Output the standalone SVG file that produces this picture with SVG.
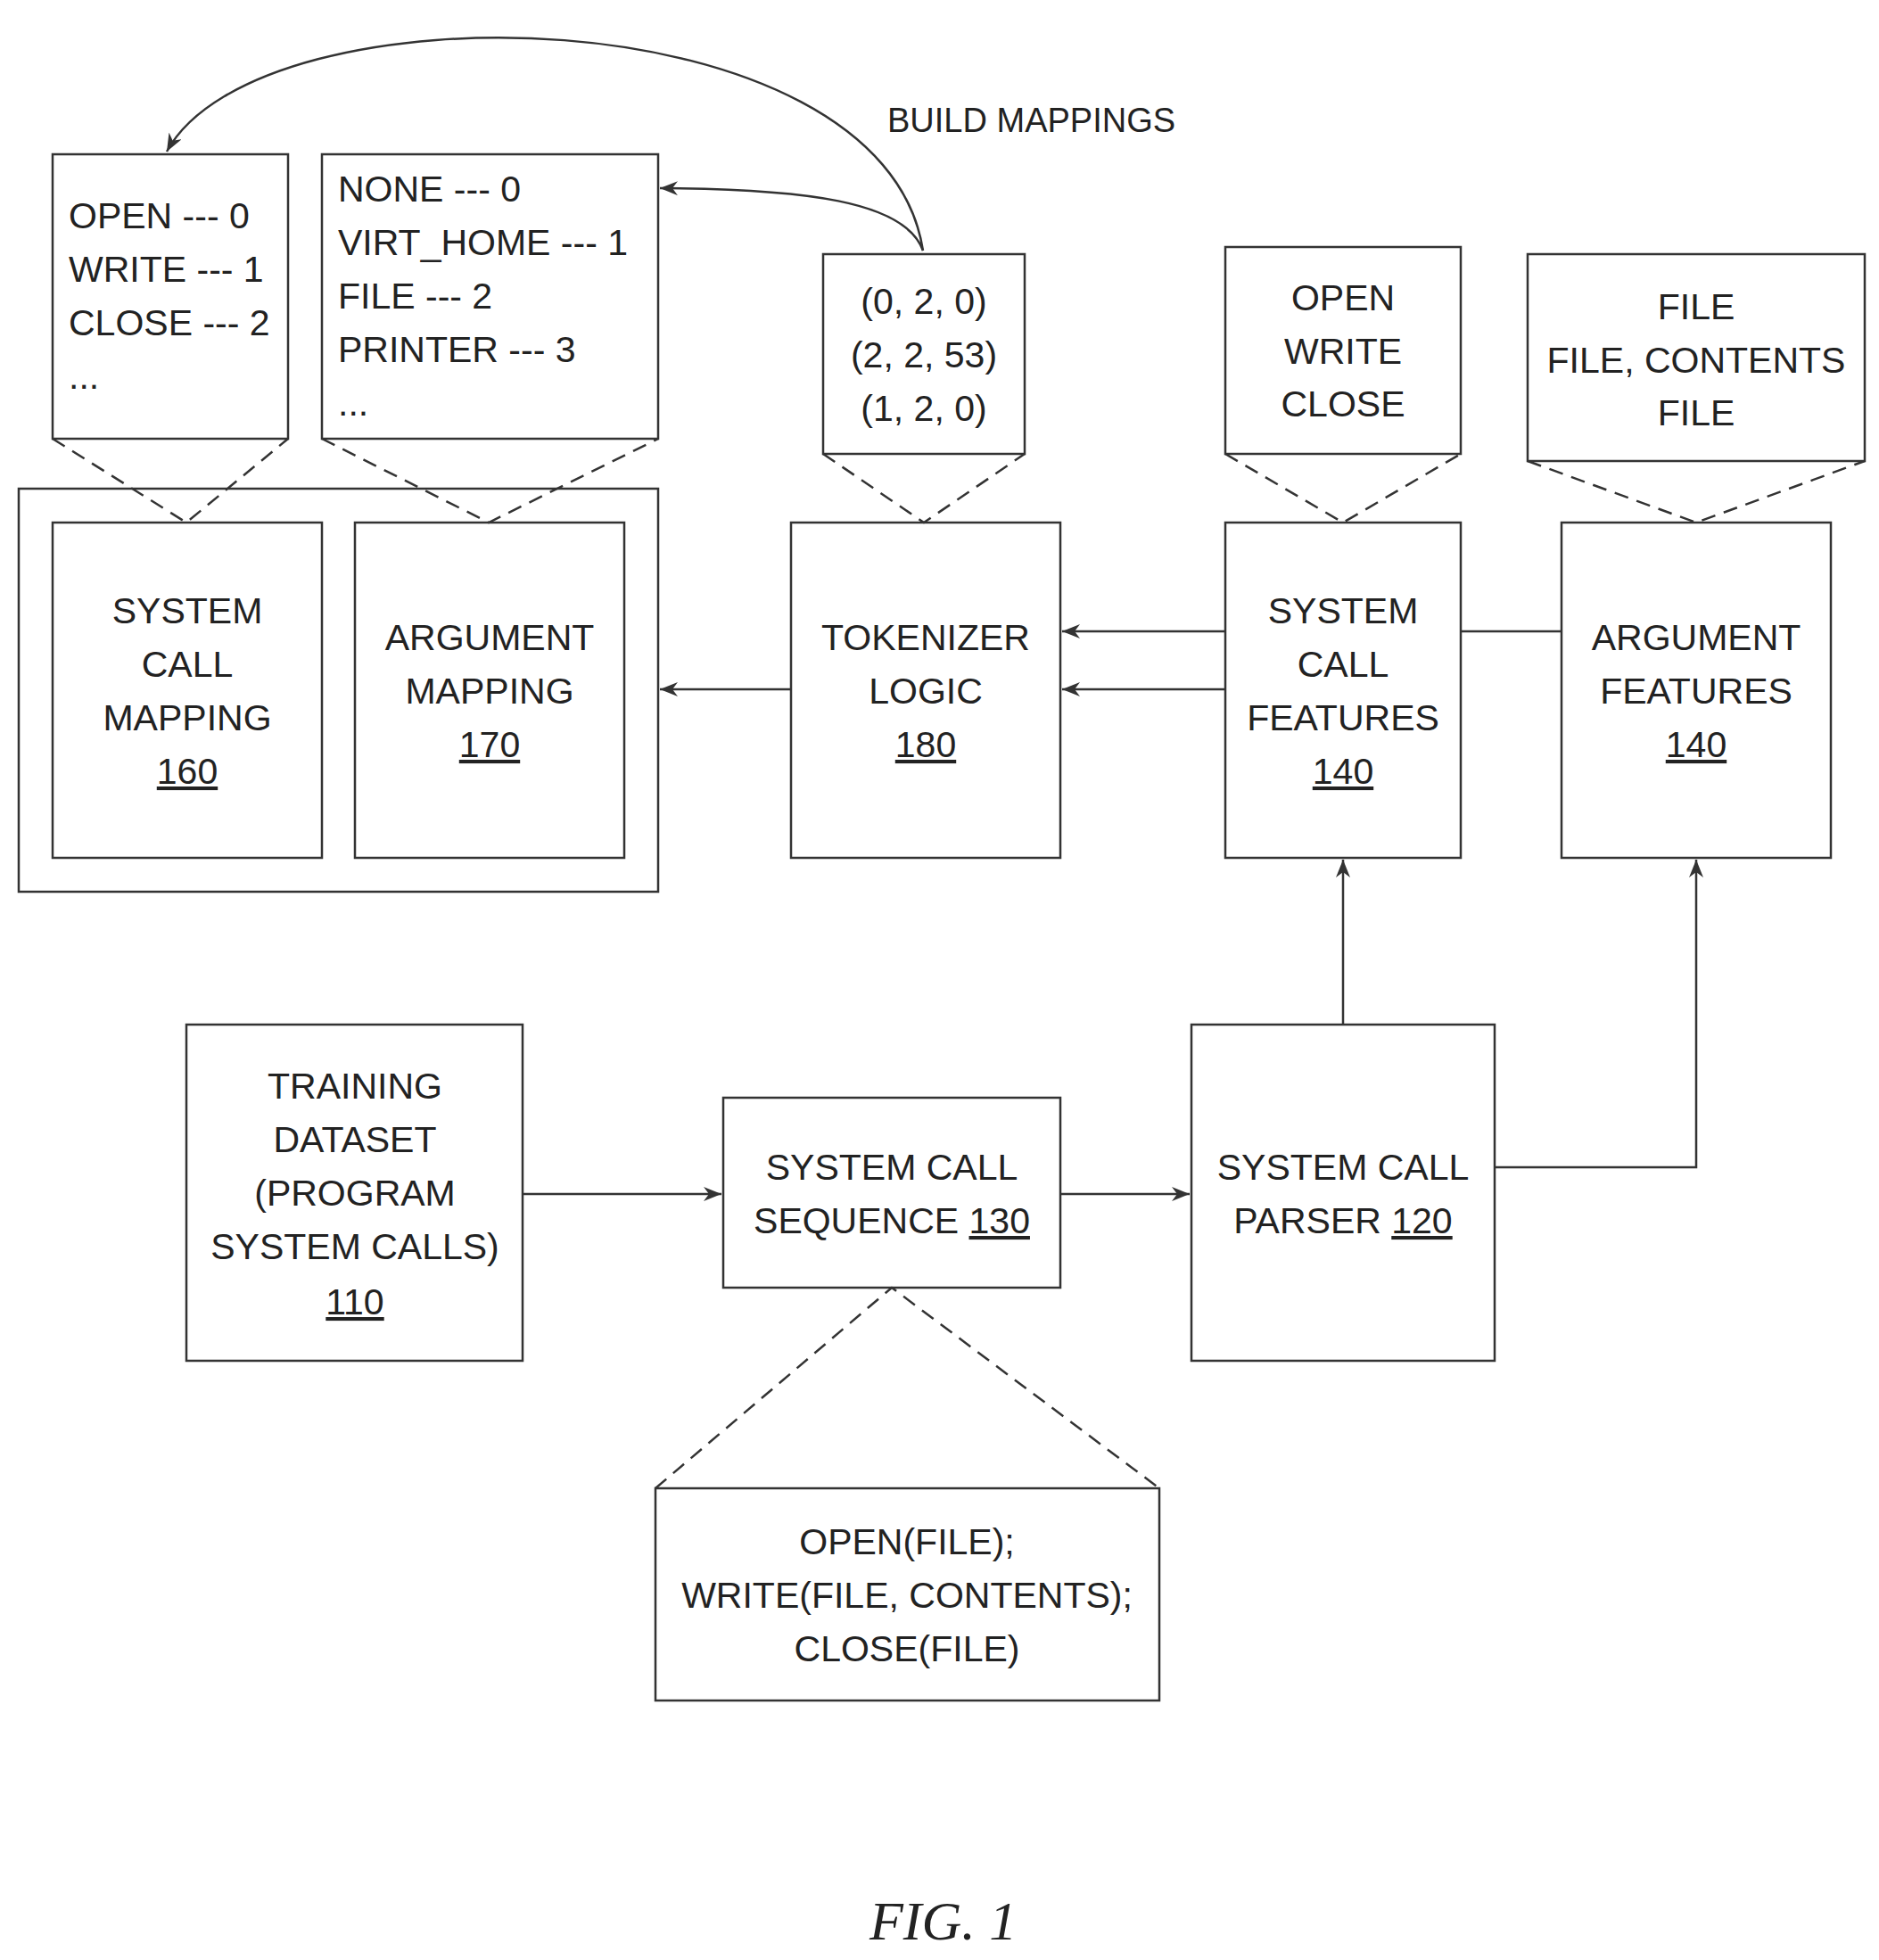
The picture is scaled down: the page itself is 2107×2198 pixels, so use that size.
<svg xmlns="http://www.w3.org/2000/svg" width="2107" height="2198" viewBox="0 0 2107 2198">
<style>
rect{fill:none;stroke:#333;stroke-width:2.5}
text{font-family:"Liberation Sans",Arial,sans-serif;font-size:41px;fill:#222}
.c{text-anchor:middle}
.u{text-decoration:underline}
.ln{fill:none;stroke:#333;stroke-width:2.5}
.d{fill:none;stroke:#333;stroke-width:2.5;stroke-dasharray:16,10}
</style>
<defs>
<marker id="a" markerWidth="22" markerHeight="16" refX="20" refY="8" orient="auto" markerUnits="userSpaceOnUse"><path d="M0,0 L20,8 L0,16 L6,8 Z" fill="#333"/></marker>
</defs>
<rect fill="#fff" width="2107" height="2198" style="fill:#fff;stroke:none"/>
<g id="group-mappings"><rect x="21" y="548" width="717" height="452"/></g>
<g id="syscall-list"><rect x="59" y="173" width="264" height="319"/>
<text x="77" y="256">OPEN --- 0</text><text x="77" y="316">WRITE --- 1</text><text x="77" y="376">CLOSE --- 2</text><text x="77" y="436">...</text></g>
<g id="arg-list"><rect x="361" y="173" width="377" height="319"/>
<text x="379" y="226">NONE --- 0</text><text x="379" y="286">VIRT_HOME --- 1</text><text x="379" y="346">FILE --- 2</text><text x="379" y="406">PRINTER --- 3</text><text x="379" y="466">...</text></g>
<g id="scm160"><rect x="59" y="586" width="302" height="376"/>
<text class="c" x="210" y="699">SYSTEM</text><text class="c" x="210" y="759">CALL</text><text class="c" x="210" y="819">MAPPING</text><text class="c u" x="210" y="879">160</text></g>
<g id="am170"><rect x="398" y="586" width="302" height="376"/>
<text class="c" x="549" y="729">ARGUMENT</text><text class="c" x="549" y="789">MAPPING</text><text class="c u" x="549" y="849">170</text></g>
<g id="tokens"><rect x="923" y="285" width="226" height="224"/>
<text class="c" x="1036" y="352">(0, 2, 0)</text><text class="c" x="1036" y="412">(2, 2, 53)</text><text class="c" x="1036" y="472">(1, 2, 0)</text></g>
<g id="tok180"><rect x="887" y="586" width="302" height="376"/>
<text class="c" x="1038" y="729">TOKENIZER</text><text class="c" x="1038" y="789">LOGIC</text><text class="c u" x="1038" y="849">180</text></g>
<g id="ops"><rect x="1374" y="277" width="264" height="232"/>
<text class="c" x="1506" y="348">OPEN</text><text class="c" x="1506" y="408">WRITE</text><text class="c" x="1506" y="467">CLOSE</text></g>
<g id="scf140"><rect x="1374" y="586" width="264" height="376"/>
<text class="c" x="1506" y="699">SYSTEM</text><text class="c" x="1506" y="759">CALL</text><text class="c" x="1506" y="819">FEATURES</text><text class="c u" x="1506" y="879">140</text></g>
<g id="args"><rect x="1713" y="285" width="378" height="232"/>
<text class="c" x="1902" y="358">FILE</text><text class="c" x="1902" y="418">FILE, CONTENTS</text><text class="c" x="1902" y="477">FILE</text></g>
<g id="af140"><rect x="1751" y="586" width="302" height="376"/>
<text class="c" x="1902" y="729">ARGUMENT</text><text class="c" x="1902" y="789">FEATURES</text><text class="c u" x="1902" y="849">140</text></g>
<g id="train110"><rect x="209" y="1149" width="377" height="377"/>
<text class="c" x="398" y="1232">TRAINING</text><text class="c" x="398" y="1292">DATASET</text><text class="c" x="398" y="1352">(PROGRAM</text><text class="c" x="398" y="1412">SYSTEM CALLS)</text><text class="c u" x="398" y="1474">110</text></g>
<g id="seq130"><rect x="811" y="1231" width="378" height="213"/>
<text class="c" x="1000" y="1323">SYSTEM CALL</text><text class="c" x="1000" y="1383">SEQUENCE <tspan class="u">130</tspan></text></g>
<g id="parser120"><rect x="1336" y="1149" width="340" height="377"/>
<text class="c" x="1506" y="1323">SYSTEM CALL</text><text class="c" x="1506" y="1383">PARSER <tspan class="u">120</tspan></text></g>
<g id="code"><rect x="735" y="1669" width="565" height="238"/>
<text class="c" x="1017" y="1743">OPEN(FILE);</text><text class="c" x="1017" y="1803">WRITE(FILE, CONTENTS);</text><text class="c" x="1017" y="1863">CLOSE(FILE)</text></g>
<g id="connectors">
<path class="d" d="M59,492 L209,586 L323,492"/>
<path class="d" d="M361,492 L548,586 L738,492"/>
<path class="d" d="M923,509 L1036,586 L1149,509"/>
<path class="d" d="M1374,509 L1506,586 L1638,509"/>
<path class="d" d="M1713,517 L1902,586 L2091,517"/>
<path class="d" d="M735,1669 L1000,1444 L1300,1669"/>
<path class="ln" d="M887,773 L740,773" marker-end="url(#a)"/>
<path class="ln" d="M1374,708 L1191,708" marker-end="url(#a)"/>
<path class="ln" d="M1374,773 L1191,773" marker-end="url(#a)"/>
<path class="ln" d="M1638,708 L1751,708"/>
<path class="ln" d="M1506,1149 L1506,964" marker-end="url(#a)"/>
<path class="ln" d="M1676,1309 L1902,1309 L1902,964" marker-end="url(#a)"/>
<path class="ln" d="M586,1339 L809,1339" marker-end="url(#a)"/>
<path class="ln" d="M1189,1339 L1334,1339" marker-end="url(#a)"/>
<path class="ln" d="M1035,281 C1015,225 900,212 740,211" marker-end="url(#a)"/>
<path class="ln" d="M1035,281 C990,-10 290,-20 187,170" marker-end="url(#a)"/>
<text x="995" y="148" style="font-size:38px">BUILD MAPPINGS</text>
</g>
<text x="975" y="2175" style="font-family:'Liberation Serif',serif;font-style:italic;font-size:62px">FIG. 1</text>
</svg>
